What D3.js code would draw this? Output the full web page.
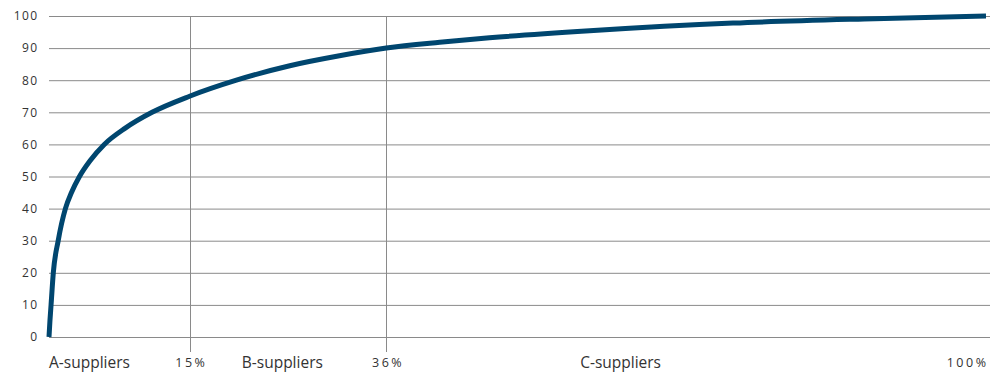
<!DOCTYPE html>
<html>
<head>
<meta charset="utf-8">
<script src="https://cdn.jsdelivr.net/npm/d3@7"></script>
<style>
  html, body { margin: 0; padding: 0; background: #fff; }
  svg { display: block; }
  text { font-family: "Open Sans", "Noto Sans", sans-serif; fill: #333; }
</style>
</head>
<body>
<svg id="chart" width="992" height="381"></svg>
<script>
// Cumulative share of suppliers (%) vs cumulative share of purchase volume (%)
const supplierPct = [0, 0.1, 0.22, 0.46, 0.98, 1.75, 2.4, 3.25, 4.4, 5.9, 8.1, 11, 15, 20, 25.7, 31, 36, 41.7, 47, 57.7, 73, 87, 100];
const volumePct   = [0, 5, 10, 20, 30, 40, 45, 50, 55, 60, 65, 70, 75, 80, 84.5, 87.6, 90, 91.8, 93.2, 95.4, 97.8, 99.1, 100];
const yTicks = [0, 10, 20, 30, 40, 50, 60, 70, 80, 90, 100];
const boundaryTicks = [15, 36];
const pctTickLabels = [15, 36, 100];
const classNames = ["A-suppliers", "B-suppliers", "C-suppliers"];
const classPos = [0, 24.9, 61];

const svg = d3.select("#chart");
const x = d3.scaleLinear().domain([0, 100]).range([49, 986]);
const y = d3.scaleLinear().domain([0, 100]).range([337, 16]);
const gridRight = 990;

// Horizontal gridlines + y labels
const yAxis = d3.axisLeft(y)
  .tickValues(yTicks)
  .tickSize(-(gridRight - x(0)))
  .tickPadding(12)
  .tickFormat(d3.format("d"));
const gy = svg.append("g").attr("transform", `translate(${x(0)},0)`).call(yAxis);
gy.select(".domain").remove();
gy.selectAll(".tick line").attr("stroke", "#8a8a8a").attr("stroke-width", 1);
gy.selectAll(".tick text")
  .attr("font-size", 12)
  .attr("letter-spacing", "1.3px")
  .attr("dx", 1.3)
  .attr("fill", "#333");

// Vertical boundary lines
svg.append("g").selectAll("line").data(boundaryTicks).join("line")
  .attr("x1", d => Math.round(x(d)) + 0.5).attr("x2", d => Math.round(x(d)) + 0.5)
  .attr("y1", y(100)).attr("y2", 352)
  .attr("stroke", "#8a8a8a").attr("stroke-width", 1);

// Percentage labels on bottom
const xAxis = d3.axisBottom(x)
  .tickValues(pctTickLabels)
  .tickSize(0)
  .tickPadding(0)
  .tickFormat(d => d + "%");
const gx = svg.append("g").attr("transform", "translate(0,367)").call(xAxis);
gx.select(".domain").remove();
gx.selectAll(".tick text")
  .attr("dy", 0)
  .attr("y", 0)
  .attr("font-size", 12.5)
  .attr("letter-spacing", "2.5px")
  .attr("fill", "#333")
  .attr("text-anchor", d => d === 100 ? "end" : "middle")
  .attr("dx", d => d === 100 ? 2 : 1.25);

// Supplier class labels
svg.append("g").selectAll("text").data(classNames).join("text")
  .attr("x", (d, i) => x(classPos[i]))
  .attr("y", 368)
  .attr("text-anchor", (d, i) => i === 0 ? "start" : "middle")
  .attr("font-size", 15.5)
  .attr("fill", "#333")
  .text(d => d);

// Curve
const pts = supplierPct.map((p, i) => [p, volumePct[i]]);
const line = d3.line().x(d => x(d[0])).y(d => y(d[1])).curve(d3.curveMonotoneX);
svg.append("path")
  .datum(pts)
  .attr("d", line)
  .attr("fill", "none")
  .attr("stroke", "#00466f")
  .attr("stroke-width", 5)
  .attr("stroke-linecap", "butt");
</script>
</body>
</html>
